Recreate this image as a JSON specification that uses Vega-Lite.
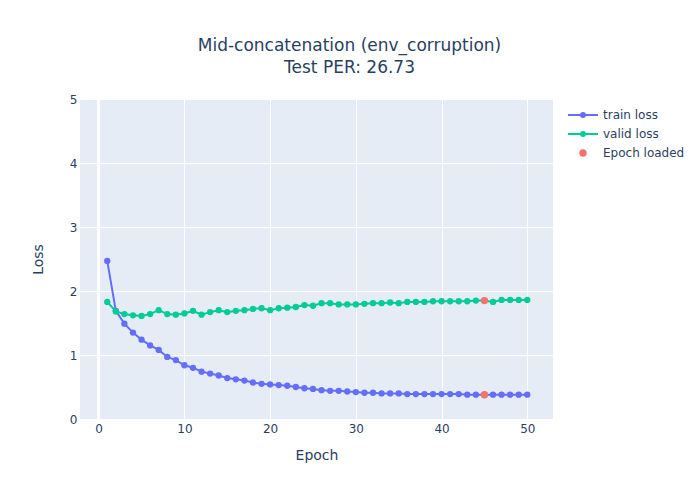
{
  "$schema": "https://vega.github.io/schema/vega-lite/v6.json",
  "autosize": {"type": "none"},
  "width": 473,
  "height": 320,
  "padding": {"left": 80, "top": 99, "right": 147, "bottom": 81},
  "background": "white",
  "title": {
    "text": ["Mid-concatenation (env_corruption)", "Test PER: 26.73"],
    "font": "DejaVu Sans",
    "fontSize": 17,
    "fontWeight": "normal",
    "color": "#2a3f5f",
    "anchor": "middle",
    "frame": "group",
    "dx": 33,
    "lineHeight": 22,
    "offset": 16
  },
  "datasets": {
    "losses": [
      {"epoch": 1, "loss": 2.47, "series": "train loss"},
      {"epoch": 2, "loss": 1.69, "series": "train loss"},
      {"epoch": 3, "loss": 1.49, "series": "train loss"},
      {"epoch": 4, "loss": 1.35, "series": "train loss"},
      {"epoch": 5, "loss": 1.24, "series": "train loss"},
      {"epoch": 6, "loss": 1.15, "series": "train loss"},
      {"epoch": 7, "loss": 1.08, "series": "train loss"},
      {"epoch": 8, "loss": 0.97, "series": "train loss"},
      {"epoch": 9, "loss": 0.92, "series": "train loss"},
      {"epoch": 10, "loss": 0.84, "series": "train loss"},
      {"epoch": 11, "loss": 0.80, "series": "train loss"},
      {"epoch": 12, "loss": 0.74, "series": "train loss"},
      {"epoch": 13, "loss": 0.71, "series": "train loss"},
      {"epoch": 14, "loss": 0.68, "series": "train loss"},
      {"epoch": 15, "loss": 0.64, "series": "train loss"},
      {"epoch": 16, "loss": 0.62, "series": "train loss"},
      {"epoch": 17, "loss": 0.60, "series": "train loss"},
      {"epoch": 18, "loss": 0.57, "series": "train loss"},
      {"epoch": 19, "loss": 0.55, "series": "train loss"},
      {"epoch": 20, "loss": 0.54, "series": "train loss"},
      {"epoch": 21, "loss": 0.53, "series": "train loss"},
      {"epoch": 22, "loss": 0.52, "series": "train loss"},
      {"epoch": 23, "loss": 0.50, "series": "train loss"},
      {"epoch": 24, "loss": 0.48, "series": "train loss"},
      {"epoch": 25, "loss": 0.47, "series": "train loss"},
      {"epoch": 26, "loss": 0.45, "series": "train loss"},
      {"epoch": 27, "loss": 0.44, "series": "train loss"},
      {"epoch": 28, "loss": 0.44, "series": "train loss"},
      {"epoch": 29, "loss": 0.43, "series": "train loss"},
      {"epoch": 30, "loss": 0.42, "series": "train loss"},
      {"epoch": 31, "loss": 0.41, "series": "train loss"},
      {"epoch": 32, "loss": 0.41, "series": "train loss"},
      {"epoch": 33, "loss": 0.40, "series": "train loss"},
      {"epoch": 34, "loss": 0.40, "series": "train loss"},
      {"epoch": 35, "loss": 0.40, "series": "train loss"},
      {"epoch": 36, "loss": 0.39, "series": "train loss"},
      {"epoch": 37, "loss": 0.39, "series": "train loss"},
      {"epoch": 38, "loss": 0.39, "series": "train loss"},
      {"epoch": 39, "loss": 0.39, "series": "train loss"},
      {"epoch": 40, "loss": 0.39, "series": "train loss"},
      {"epoch": 41, "loss": 0.39, "series": "train loss"},
      {"epoch": 42, "loss": 0.39, "series": "train loss"},
      {"epoch": 43, "loss": 0.38, "series": "train loss"},
      {"epoch": 44, "loss": 0.38, "series": "train loss"},
      {"epoch": 45, "loss": 0.38, "series": "train loss"},
      {"epoch": 46, "loss": 0.38, "series": "train loss"},
      {"epoch": 47, "loss": 0.38, "series": "train loss"},
      {"epoch": 48, "loss": 0.38, "series": "train loss"},
      {"epoch": 49, "loss": 0.38, "series": "train loss"},
      {"epoch": 50, "loss": 0.38, "series": "train loss"},
      {"epoch": 1, "loss": 1.83, "series": "valid loss"},
      {"epoch": 2, "loss": 1.68, "series": "valid loss"},
      {"epoch": 3, "loss": 1.64, "series": "valid loss"},
      {"epoch": 4, "loss": 1.62, "series": "valid loss"},
      {"epoch": 5, "loss": 1.61, "series": "valid loss"},
      {"epoch": 6, "loss": 1.64, "series": "valid loss"},
      {"epoch": 7, "loss": 1.70, "series": "valid loss"},
      {"epoch": 8, "loss": 1.64, "series": "valid loss"},
      {"epoch": 9, "loss": 1.63, "series": "valid loss"},
      {"epoch": 10, "loss": 1.65, "series": "valid loss"},
      {"epoch": 11, "loss": 1.69, "series": "valid loss"},
      {"epoch": 12, "loss": 1.63, "series": "valid loss"},
      {"epoch": 13, "loss": 1.67, "series": "valid loss"},
      {"epoch": 14, "loss": 1.70, "series": "valid loss"},
      {"epoch": 15, "loss": 1.67, "series": "valid loss"},
      {"epoch": 16, "loss": 1.69, "series": "valid loss"},
      {"epoch": 17, "loss": 1.70, "series": "valid loss"},
      {"epoch": 18, "loss": 1.72, "series": "valid loss"},
      {"epoch": 19, "loss": 1.73, "series": "valid loss"},
      {"epoch": 20, "loss": 1.70, "series": "valid loss"},
      {"epoch": 21, "loss": 1.73, "series": "valid loss"},
      {"epoch": 22, "loss": 1.74, "series": "valid loss"},
      {"epoch": 23, "loss": 1.75, "series": "valid loss"},
      {"epoch": 24, "loss": 1.78, "series": "valid loss"},
      {"epoch": 25, "loss": 1.77, "series": "valid loss"},
      {"epoch": 26, "loss": 1.81, "series": "valid loss"},
      {"epoch": 27, "loss": 1.81, "series": "valid loss"},
      {"epoch": 28, "loss": 1.79, "series": "valid loss"},
      {"epoch": 29, "loss": 1.79, "series": "valid loss"},
      {"epoch": 30, "loss": 1.79, "series": "valid loss"},
      {"epoch": 31, "loss": 1.80, "series": "valid loss"},
      {"epoch": 32, "loss": 1.81, "series": "valid loss"},
      {"epoch": 33, "loss": 1.81, "series": "valid loss"},
      {"epoch": 34, "loss": 1.82, "series": "valid loss"},
      {"epoch": 35, "loss": 1.81, "series": "valid loss"},
      {"epoch": 36, "loss": 1.83, "series": "valid loss"},
      {"epoch": 37, "loss": 1.83, "series": "valid loss"},
      {"epoch": 38, "loss": 1.83, "series": "valid loss"},
      {"epoch": 39, "loss": 1.84, "series": "valid loss"},
      {"epoch": 40, "loss": 1.84, "series": "valid loss"},
      {"epoch": 41, "loss": 1.84, "series": "valid loss"},
      {"epoch": 42, "loss": 1.84, "series": "valid loss"},
      {"epoch": 43, "loss": 1.84, "series": "valid loss"},
      {"epoch": 44, "loss": 1.85, "series": "valid loss"},
      {"epoch": 45, "loss": 1.85, "series": "valid loss"},
      {"epoch": 46, "loss": 1.83, "series": "valid loss"},
      {"epoch": 47, "loss": 1.86, "series": "valid loss"},
      {"epoch": 48, "loss": 1.86, "series": "valid loss"},
      {"epoch": 49, "loss": 1.86, "series": "valid loss"},
      {"epoch": 50, "loss": 1.86, "series": "valid loss"},
      {"epoch": 45, "loss": 0.38, "series": "Epoch loaded"},
      {"epoch": 45, "loss": 1.85, "series": "Epoch loaded"}
    ]
  },
  "data": {"name": "losses"},
  "encoding": {
    "x": {
      "field": "epoch",
      "type": "quantitative",
      "title": "Epoch",
      "scale": {"domain": [-2.18, 53.0], "nice": false, "zero": false},
      "axis": {"values": [0, 10, 20, 30, 40, 50], "labelPadding": 4, "titlePadding": 14}
    },
    "y": {
      "field": "loss",
      "type": "quantitative",
      "title": "Loss",
      "scale": {"domain": [0, 5], "nice": false},
      "axis": {"values": [0, 1, 2, 3, 4, 5], "labelPadding": 3, "titlePadding": 24}
    },
    "color": {
      "field": "series",
      "type": "nominal",
      "title": null,
      "scale": {
        "domain": ["train loss", "valid loss", "Epoch loaded"],
        "range": ["#636efa", "#00cc96", "#f4736b"]
      },
      "legend": {
        "orient": "none",
        "legendX": 493,
        "legendY": 6,
        "padding": 0,
        "symbolSize": 324,
        "labelOffset": 10,
        "rowPadding": 3,
        "labelFont": "DejaVu Sans",
        "labelFontSize": 12,
        "labelColor": "#2a3f5f",
        "encode": {
          "symbols": {
            "update": {
              "shape": {"signal": "datum.value === 'Epoch loaded' ? 'M-0.3,0A0.3,0.3,0,1,1,0.3,0A0.3,0.3,0,1,1,-0.3,0Z' : 'M-1.67,0H1.67M-0.22,0A0.22,0.22,0,1,1,0.22,0A0.22,0.22,0,1,1,-0.22,0Z'"},
              "fill": {"scale": "color", "field": "value"},
              "stroke": {"scale": "color", "field": "value"},
              "strokeWidth": {"value": 2},
              "opacity": {"value": 1}
            }
          }
        }
      }
    }
  },
  "layer": [
    {
      "mark": {"type": "rule", "color": "white", "strokeWidth": 2},
      "encoding": {"x": {"datum": 0}, "y": null, "color": null}
    },
    {
      "transform": [{"filter": "datum.series !== 'Epoch loaded'"}],
      "mark": {
        "type": "line",
        "strokeWidth": 2,
        "point": {"filled": true, "size": 40, "opacity": 1}
      }
    },
    {
      "transform": [{"filter": "datum.series === 'Epoch loaded'"}],
      "mark": {"type": "point", "filled": true, "size": 55, "opacity": 1}
    }
  ],
  "config": {
    "font": "DejaVu Sans",
    "view": {"fill": "#e5ecf6", "stroke": null},
    "axis": {
      "grid": true,
      "gridColor": "white",
      "gridWidth": 1,
      "gridOpacity": 1,
      "domain": false,
      "ticks": false,
      "labelFont": "DejaVu Sans",
      "labelFontSize": 12,
      "labelColor": "#2a3f5f",
      "titleFont": "DejaVu Sans",
      "titleFontSize": 14,
      "titleFontWeight": "normal",
      "titleColor": "#2a3f5f"
    }
  }
}
